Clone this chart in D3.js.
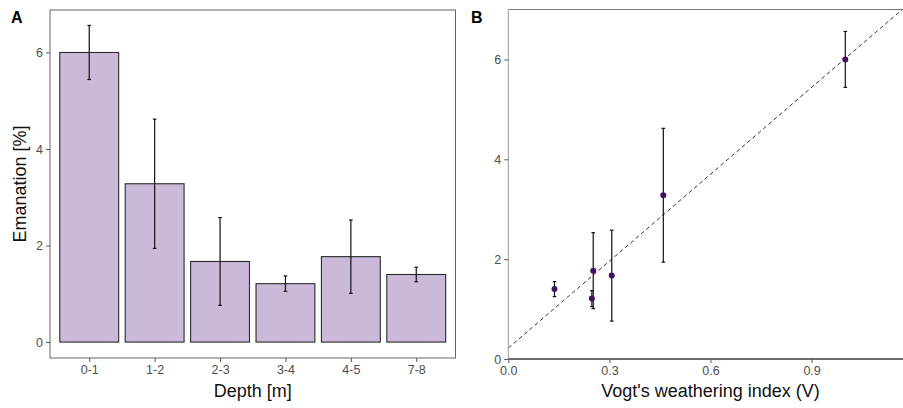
<!DOCTYPE html>
<html>
<head>
<meta charset="utf-8">
<script src="https://cdn.jsdelivr.net/npm/d3@7"></script>
<style>
  html, body { margin: 0; padding: 0; background: #fff; }
  svg { display: block; font-family: "Liberation Sans", Arial, sans-serif; }
</style>
</head>
<body>
<svg id="chart" width="903" height="408"></svg>
<script>
// Emanation by depth interval (mean and error half-width, %)
const depths = ["0-1", "1-2", "2-3", "3-4", "4-5", "7-8"];
const emanation = [6.00, 3.28, 1.67, 1.21, 1.77, 1.40];
const emanationErr = [0.56, 1.34, 0.91, 0.16, 0.76, 0.15];
// Vogt's weathering index for each depth interval
const vogtIndex = [1.00, 0.46, 0.307, 0.248, 0.252, 0.137];
// Linear fit of emanation against V
const fitIntercept = 0.22;
const fitSlope = 5.8;

const yTicksA = [0, 2, 4, 6];
const yTicksB = [0, 2, 4, 6];
const xTicksB = [0, 0.3, 0.6, 0.9];

const FONT = "Liberation Sans, Arial, sans-serif";
const svg = d3.select("#chart");

function styleAxis(g) {
  g.attr("font-family", FONT).attr("font-size", 12.5);
  g.selectAll(".tick text").attr("fill", "#4d4d4d");
  g.selectAll(".tick line").attr("stroke", "#555");
}

// ---------- Panel A: bar chart ----------
const A = { left: 50, right: 455.5, top: 10, bottom: 358 };
// ggplot-style discrete axis: 0.6 units of expansion per side, bars 0.9 wide
const stepA = (A.right - A.left) / (depths.length + 0.2);
const xA = d3.scalePoint().domain(depths)
  .range([A.left + stepA * 0.6, A.right - stepA * 0.6]);
const barW = stepA * 0.9;
const yA = d3.scaleLinear().domain([-0.33, 6.88]).range([A.bottom, A.top]);

const gA = svg.append("g");
gA.append("rect")
  .attr("x", A.left).attr("y", A.top)
  .attr("width", A.right - A.left).attr("height", A.bottom - A.top)
  .attr("fill", "none").attr("stroke", "#666").attr("stroke-width", 1);

const bars = depths.map((d, i) => ({ d, v: emanation[i], e: emanationErr[i] }));

gA.selectAll("rect.bar").data(bars).enter().append("rect")
  .attr("class", "bar")
  .attr("x", b => xA(b.d) - barW / 2)
  .attr("width", barW)
  .attr("y", b => yA(b.v))
  .attr("height", b => yA(0) - yA(b.v))
  .attr("fill", "#cbb9da")
  .attr("stroke", "#2a2a2a")
  .attr("stroke-width", 1.1);

const errA = gA.selectAll("g.err").data(bars).enter().append("g").attr("class", "err");
errA.append("line")
  .attr("x1", b => xA(b.d)).attr("x2", b => xA(b.d))
  .attr("y1", b => yA(b.v + b.e)).attr("y2", b => yA(b.v - b.e))
  .attr("stroke", "#111").attr("stroke-width", 1.2);
[1, -1].forEach(s => {
  errA.append("line")
    .attr("x1", b => xA(b.d) - 1.8).attr("x2", b => xA(b.d) + 1.8)
    .attr("y1", b => yA(b.v + s * b.e)).attr("y2", b => yA(b.v + s * b.e))
    .attr("stroke", "#111").attr("stroke-width", 1.2);
});

// axes A
const yAxisA = gA.append("g").attr("transform", `translate(${A.left},0)`)
  .call(d3.axisLeft(yA).tickValues(yTicksA).tickSize(4).tickPadding(3).tickFormat(d3.format("d")))
  .call(styleAxis);
yAxisA.select(".domain").remove();

const xAxisA = gA.append("g").attr("transform", `translate(0,${A.bottom})`)
  .call(d3.axisBottom(xA).tickSize(4).tickPadding(3))
  .call(styleAxis);
xAxisA.select(".domain").remove();

gA.append("text")
  .attr("x", (A.left + A.right) / 2).attr("y", 397)
  .attr("text-anchor", "middle").attr("font-size", 18).attr("fill", "#111")
  .text("Depth [m]");
gA.append("text")
  .attr("transform", `translate(26,${(A.top + A.bottom) / 2}) rotate(-90)`)
  .attr("text-anchor", "middle").attr("font-size", 18).attr("fill", "#111")
  .text("Emanation [%]");
gA.append("text")
  .attr("x", 11).attr("y", 23)
  .attr("font-size", 16).attr("font-weight", "bold").attr("fill", "#000")
  .text("A");

// ---------- Panel B: emanation vs V ----------
const B = { left: 508.3, right: 912.7, top: 9.5, bottom: 359 };
const xB = d3.scaleLinear().domain([0, 1.2]).range([B.left, B.right]);
const yB = d3.scaleLinear().domain([0, 7]).range([B.bottom, B.top]);

const gB = svg.append("g");
gB.append("clipPath").attr("id", "clipB").append("rect")
  .attr("x", B.left).attr("y", B.top).attr("width", B.right - B.left).attr("height", B.bottom - B.top);

// fitted line
gB.append("line")
  .attr("clip-path", "url(#clipB)")
  .attr("x1", xB(0)).attr("y1", yB(fitIntercept))
  .attr("x2", xB(1.2)).attr("y2", yB(fitIntercept + fitSlope * 1.2))
  .attr("stroke", "#333").attr("stroke-width", 1).attr("stroke-dasharray", "4,3");

const pts = depths.map((d, i) => ({ d, x: vogtIndex[i], v: emanation[i], e: emanationErr[i] }));
const errB = gB.selectAll("g.errb").data(pts).enter().append("g").attr("class", "errb");
errB.append("line")
  .attr("x1", p => xB(p.x)).attr("x2", p => xB(p.x))
  .attr("y1", p => yB(p.v + p.e)).attr("y2", p => yB(p.v - p.e))
  .attr("stroke", "#111").attr("stroke-width", 1.2);
[1, -1].forEach(s => {
  errB.append("line")
    .attr("x1", p => xB(p.x) - 1.8).attr("x2", p => xB(p.x) + 1.8)
    .attr("y1", p => yB(p.v + s * p.e)).attr("y2", p => yB(p.v + s * p.e))
    .attr("stroke", "#111").attr("stroke-width", 1.2);
});
gB.selectAll("circle").data(pts).enter().append("circle")
  .attr("cx", p => xB(p.x)).attr("cy", p => yB(p.v)).attr("r", 3)
  .attr("fill", "#44105f");

// frame lines
gB.append("line").attr("x1", B.left).attr("x2", B.right).attr("y1", B.top).attr("y2", B.top)
  .attr("stroke", "#777").attr("stroke-width", 1);

const yAxisB = gB.append("g").attr("transform", `translate(${B.left},0)`)
  .call(d3.axisLeft(yB).tickValues(yTicksB).tickSize(4).tickPadding(3).tickFormat(d3.format("d")))
  .call(styleAxis);
yAxisB.select(".domain").attr("d", `M0,${B.top}V${B.bottom}`).attr("stroke", "#999");

const xAxisB = gB.append("g").attr("transform", `translate(0,${B.bottom})`)
  .call(d3.axisBottom(xB).tickValues(xTicksB).tickSize(4).tickPadding(3).tickFormat(d3.format(".1f")))
  .call(styleAxis);
xAxisB.select(".domain").attr("d", `M${B.left},0H${B.right}`).attr("stroke", "#6e6e6e").attr("stroke-width", 2);

gB.append("text")
  .attr("x", (B.left + B.right) / 2).attr("y", 397)
  .attr("text-anchor", "middle").attr("font-size", 18).attr("fill", "#111")
  .text("Vogt's weathering index (V)");
gB.append("text")
  .attr("x", 471).attr("y", 23)
  .attr("font-size", 16).attr("font-weight", "bold").attr("fill", "#000")
  .text("B");
</script>
</body>
</html>
